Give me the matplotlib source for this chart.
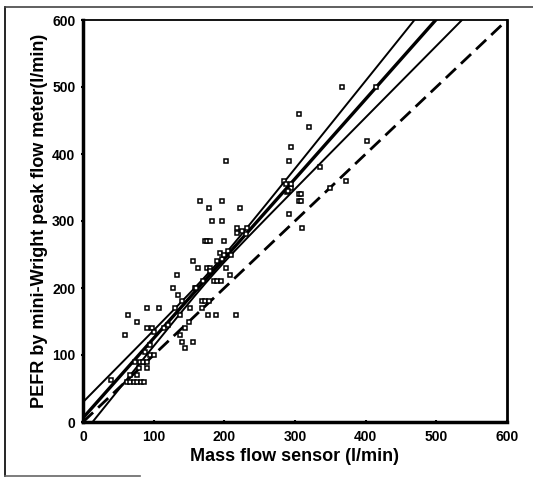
import numpy as np
import matplotlib
matplotlib.use("Agg")
import matplotlib.pyplot as plt
from matplotlib.lines import Line2D

# Scatter data (mass flow sensor vs mini-Wright PEFR), l/min
mass_flow = [366, 415, 305, 320, 295, 292, 402, 336, 202, 285, 295, 288,
             305, 308, 305, 309, 350, 372, 292, 310, 232, 218, 218,
             166, 178, 197, 222, 182, 197, 172, 176, 180, 200,
             155, 163, 175, 180, 194, 196, 202, 208, 185, 190, 195,
             133, 128, 135, 158, 152, 168, 173, 178, 168, 177, 188, 217,
             90, 107, 64, 76, 60, 90, 97, 100, 137, 145, 140, 156, 145,
             150, 137, 95, 101, 90, 74, 80, 85, 90, 62, 67, 72, 77, 82,
             87, 67, 76, 79, 40, 130, 140, 160, 170, 180, 190, 200, 205,
             210, 287, 290, 295, 230, 225, 88, 95, 115, 120]
mini_wright = [500, 500, 460, 440, 410, 390, 420, 380, 390, 360, 350, 343,
               340, 340, 330, 330, 350, 360, 310, 290, 290, 290, 282,
               330, 320, 330, 320, 300, 300, 270, 270, 270, 270,
               240, 230, 230, 230, 252, 243, 230, 220, 210, 210, 210,
               220, 200, 190, 200, 170, 180, 180, 180, 170, 160, 160, 160,
               170, 170, 160, 150, 130, 140, 140, 135, 130, 140, 120, 120, 110,
               150, 160, 100, 100, 80, 90, 90, 90, 90, 60, 60, 60, 60, 60,
               60, 70, 70, 80, 62, 170, 180, 200, 210, 225, 240, 250, 255,
               250, 355, 345, 355, 280, 285, 105, 115, 140, 145]

# Regression line and confidence band
reg_slope = 1.19
reg_intercept = 6.0
band_c0 = 5.0
band_k = 0.125
band_center = 185.0
# Line of identity
identity_range = [0, 600]

x_ticks = [0, 100, 200, 300, 400, 500, 600]
y_ticks = [0, 100, 200, 300, 400, 500, 600]
x_label = "Mass flow sensor (l/min)"
y_label = "PEFR by mini-Wright peak flow meter(l/min)"

plt.rcParams['font.family'] = ['Liberation Sans', 'DejaVu Sans']

fig = plt.figure(figsize=(5.33, 4.79), dpi=100)
ax = fig.add_axes([83/533, 1-422/479, (507-83)/533, (422-20)/479])

xs = np.linspace(0, 600, 400)
fit = reg_slope * xs + reg_intercept
half = np.sqrt(band_c0**2 + (band_k * (xs - band_center))**2)

ax.plot(xs, fit, color='black', lw=2.4, solid_capstyle='butt')
ax.plot(xs, fit + half, color='black', lw=1.4)
ax.plot(xs, fit - half, color='black', lw=1.4)
ax.plot(identity_range, identity_range, color='black', lw=2.0,
        linestyle=(0, (5, 2.5)))

ax.plot(mass_flow, mini_wright, linestyle='none', marker='s', markersize=3.2,
        markerfacecolor='white', markeredgecolor='black', markeredgewidth=1.1)

ax.set_xlim(0, 600)
ax.set_ylim(0, 600)
ax.set_xticks(x_ticks)
ax.set_yticks(y_ticks)
ax.tick_params(axis='both', labelsize=10, width=1.5, length=3, direction='inout',
               pad=4)
for lab in ax.get_xticklabels() + ax.get_yticklabels():
    lab.set_fontweight('bold')

ax.spines['left'].set_linewidth(2.5)
ax.spines['bottom'].set_linewidth(2.5)
ax.spines['top'].set_linewidth(1.3)
ax.spines['right'].set_linewidth(2.0)

ax.set_xlabel(x_label, fontsize=13, fontweight='bold', labelpad=3)
ax.set_ylabel(y_label, fontsize=13, fontweight='bold', labelpad=3)

# figure frame
fig.add_artist(Line2D([5/533, 5/533], [1-7/479, 1-476/479], color='black', lw=1.2,
                      transform=fig.transFigure))
fig.add_artist(Line2D([5/533, 1.0], [1-7/479, 1-7/479], color='#444444', lw=1.2,
                      transform=fig.transFigure))
fig.add_artist(Line2D([5/533, 140/533], [1-476/479, 1-476/479], color='#666666', lw=1.2,
                      transform=fig.transFigure))

fig.savefig("out.png", dpi=100)
